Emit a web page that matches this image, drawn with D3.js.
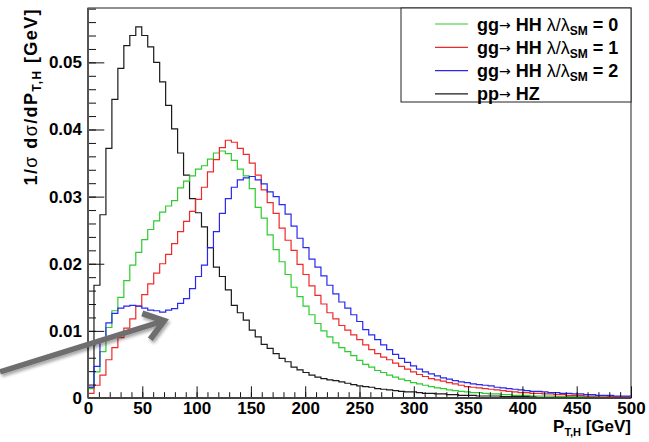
<!DOCTYPE html>
<html>
<head>
<meta charset="utf-8">
<script src="https://cdn.jsdelivr.net/npm/d3@7"></script>
<style>
  body { margin: 0; background: #fff; }
  svg text { font-family: "Liberation Sans", Arial, Helvetica, sans-serif; font-weight: bold; }
</style>
</head>
<body>
<script>
// pT,H distributions, bins of 5.5 GeV starting at 0
var binWidth = 5.5;

var ppHZ = [
  0.0016, 0.0168, 0.0273, 0.0372, 0.0445, 0.0491, 0.0525, 0.0540, 0.0553, 0.0540,
  0.0523, 0.0500, 0.0471, 0.0436, 0.0401, 0.0365, 0.0332, 0.0297, 0.0276, 0.0255,
  0.0224, 0.0195, 0.0181, 0.0161, 0.0138, 0.0127, 0.0116, 0.0101, 0.0091, 0.0080,
  0.0074, 0.0066, 0.0059, 0.0054, 0.0046, 0.0042, 0.0038, 0.0034, 0.0031, 0.0029,
  0.0027, 0.0026, 0.0024, 0.0022, 0.0020, 0.0018, 0.0017, 0.0016, 0.0014, 0.0013,
  0.0012, 0.0011, 0.0010, 0.0009, 0.0009, 0.0008, 0.0007, 0.0007, 0.0006, 0.0006,
  0.0005, 0.0005, 0.0004, 0.0004, 0.0004, 0.0003, 0.0003, 0.0003, 0.0003, 0.0002,
  0.0002, 0.0002, 0.0002, 0.0002, 0.0002, 0.0001, 0.0001, 0.0001, 0.0001, 0.0001,
  0.0001, 0.0001, 0.0001, 0.0001, 0.0001, 0.0001, 0.0001, 0.0001, 0.0001, 0.0001,
  0.0001
];

var hhLambda0 = [
  0.0014, 0.0039, 0.0069, 0.0105, 0.0130, 0.0150, 0.0175, 0.0198, 0.0217, 0.0236,
  0.0251, 0.0264, 0.0277, 0.0286, 0.0294, 0.0313, 0.0323, 0.0331, 0.0341, 0.0346,
  0.0356, 0.0365, 0.0368, 0.0364, 0.0354, 0.0341, 0.0331, 0.0312, 0.0284, 0.0268,
  0.0243, 0.0221, 0.0203, 0.0184, 0.0165, 0.0151, 0.0137, 0.0124, 0.0111, 0.0100,
  0.0091, 0.0082, 0.0075, 0.0069, 0.0063, 0.0056, 0.0050, 0.0046, 0.0041, 0.0038,
  0.0034, 0.0031, 0.0028, 0.0026, 0.0023, 0.0021, 0.0019, 0.0017, 0.0015, 0.0014,
  0.0012, 0.0011, 0.0010, 0.0009, 0.0008, 0.0008, 0.0007, 0.0006, 0.0006, 0.0005,
  0.0005, 0.0004, 0.0004, 0.0004, 0.0003, 0.0003, 0.0003, 0.0003, 0.0002, 0.0002,
  0.0002, 0.0002, 0.0002, 0.0002, 0.0002, 0.0001, 0.0001, 0.0001, 0.0001, 0.0001,
  0.0001
];

var hhLambda1 = [
  0.0007, 0.0019, 0.0034, 0.0057, 0.0075, 0.0090, 0.0104, 0.0118, 0.0137, 0.0154,
  0.0170, 0.0186, 0.0200, 0.0214, 0.0230, 0.0248, 0.0263, 0.0278, 0.0296, 0.0314,
  0.0337, 0.0355, 0.0373, 0.0384, 0.0381, 0.0372, 0.0363, 0.0350, 0.0332, 0.0310,
  0.0291, 0.0275, 0.0253, 0.0235, 0.0220, 0.0199, 0.0184, 0.0167, 0.0153, 0.0140,
  0.0127, 0.0118, 0.0108, 0.0101, 0.0094, 0.0087, 0.0079, 0.0072, 0.0066, 0.0061,
  0.0057, 0.0052, 0.0047, 0.0043, 0.0039, 0.0035, 0.0032, 0.0029, 0.0027, 0.0025,
  0.0023, 0.0021, 0.0019, 0.0017, 0.0016, 0.0015, 0.0014, 0.0013, 0.0012, 0.0011,
  0.0010, 0.0009, 0.0008, 0.0008, 0.0007, 0.0007, 0.0006, 0.0006, 0.0005, 0.0005,
  0.0004, 0.0004, 0.0004, 0.0003, 0.0003, 0.0003, 0.0003, 0.0002, 0.0002, 0.0002,
  0.0002
];

var hhLambda2 = [
  0.0016, 0.0047, 0.0085, 0.0112, 0.0126, 0.0134, 0.0137, 0.0138, 0.0137, 0.0134,
  0.0131, 0.0130, 0.0128, 0.0131, 0.0133, 0.0141, 0.0148, 0.0163, 0.0181, 0.0198,
  0.0224, 0.0248, 0.0275, 0.0297, 0.0314, 0.0325, 0.0328, 0.0330, 0.0325, 0.0319,
  0.0307, 0.0300, 0.0288, 0.0274, 0.0256, 0.0238, 0.0224, 0.0207, 0.0195, 0.0182,
  0.0168, 0.0155, 0.0143, 0.0134, 0.0124, 0.0114, 0.0102, 0.0094, 0.0087, 0.0079,
  0.0072, 0.0065, 0.0059, 0.0053, 0.0048, 0.0043, 0.0039, 0.0036, 0.0033, 0.0030,
  0.0028, 0.0026, 0.0024, 0.0023, 0.0021, 0.0020, 0.0019, 0.0018, 0.0016, 0.0015,
  0.0014, 0.0013, 0.0012, 0.0011, 0.0010, 0.0010, 0.0009, 0.0008, 0.0008, 0.0007,
  0.0007, 0.0006, 0.0006, 0.0005, 0.0005, 0.0004, 0.0004, 0.0004, 0.0003, 0.0003,
  0.0003
];

var xMajorTicks = [0, 50, 100, 150, 200, 250, 300, 350, 400, 450, 500];
var yMajorTicks = [0, 0.01, 0.02, 0.03, 0.04, 0.05];

var series = [
  { name: 'pp', values: ppHZ, color: '#1a1a1a' },
  { name: 'l0', values: hhLambda0, color: '#2ecc2e' },
  { name: 'l1', values: hhLambda1, color: '#f02828' },
  { name: 'l2', values: hhLambda2, color: '#2828f0' }
];

// legend rows, top to bottom
var legendRows = [
  { proc: 'gg', fin: 'HH', lam: '0', color: '#2ecc2e' },
  { proc: 'gg', fin: 'HH', lam: '1', color: '#f02828' },
  { proc: 'gg', fin: 'HH', lam: '2', color: '#2828f0' },
  { proc: 'pp', fin: 'HZ', lam: null, color: '#1a1a1a' }
];

var W = 649, H = 442;
var plotL = 88, plotR = 631, plotT = 8, plotB = 398;

var svg = d3.select('body').append('svg')
  .attr('width', W)
  .attr('height', H);

svg.append('rect').attr('width', W).attr('height', H).attr('fill', '#fff');

var x = d3.scaleLinear().domain([0, 500]).range([plotL, plotR]);
var y = d3.scaleLinear().domain([0, 0.0581]).range([plotB, plotT]);

var defs = svg.append('defs');
defs.append('clipPath').attr('id', 'frame')
  .append('rect')
    .attr('x', plotL).attr('y', plotT)
    .attr('width', plotR - plotL).attr('height', plotB - plotT);
var shadow = defs.append('filter').attr('id', 'shadow')
  .attr('x', '-20%').attr('y', '-40%').attr('width', '140%').attr('height', '200%');
shadow.append('feDropShadow')
  .attr('dx', 1.5).attr('dy', 2.5).attr('stdDeviation', 1.8)
  .attr('flood-color', '#000').attr('flood-opacity', 0.35);

// frame
svg.append('rect')
  .attr('x', plotL).attr('y', plotT)
  .attr('width', plotR - plotL).attr('height', plotB - plotT)
  .attr('fill', 'none').attr('stroke', '#222').attr('stroke-width', 1);

// histograms
function histPoints(values) {
  var pts = values.map(function(v, i) { return [i * binWidth, v]; });
  pts.push([values.length * binWidth, values[values.length - 1]]);
  return pts;
}

var line = d3.line()
  .x(function(d) { return x(d[0]); })
  .y(function(d) { return y(d[1]); })
  .curve(d3.curveStepAfter);

svg.append('g').attr('clip-path', 'url(#frame)')
  .selectAll('path.hist')
  .data(series)
  .enter().append('path')
    .attr('class', 'hist')
    .attr('d', function(d) { return line(histPoints(d.values)); })
    .attr('fill', 'none')
    .attr('stroke', function(d) { return d.color; })
    .attr('stroke-width', 1.2);

// axes: ticks point inward like ROOT
var xMinor = d3.range(0, 501, 10);
var yMinor = d3.range(0, 0.0581, 0.002);

svg.append('g')
  .attr('transform', 'translate(0,' + plotB + ')')
  .call(d3.axisBottom(x).tickValues(xMinor).tickSize(-5.8).tickFormat(''))
  .call(function(g) { g.select('.domain').remove(); });

var xAxis = svg.append('g')
  .attr('transform', 'translate(0,' + plotB + ')')
  .call(d3.axisBottom(x).tickValues(xMajorTicks).tickSize(-11.7).tickPadding(4)
    .tickFormat(d3.format('d')));
xAxis.select('.domain').remove();
xAxis.selectAll('text').attr('font-size', 17).attr('fill', '#000');

svg.append('g')
  .attr('transform', 'translate(' + plotL + ',0)')
  .call(d3.axisLeft(y).tickValues(yMinor).tickSize(-8).tickFormat(''))
  .call(function(g) { g.select('.domain').remove(); });

var yAxis = svg.append('g')
  .attr('transform', 'translate(' + plotL + ',0)')
  .call(d3.axisLeft(y).tickValues(yMajorTicks).tickSize(-16.3).tickPadding(6)
    .tickFormat(function(d) { return d === 0 ? '0' : d3.format('.2f')(d); }));
yAxis.select('.domain').remove();
yAxis.selectAll('text').attr('font-size', 17).attr('fill', '#000');

svg.selectAll('.tick line').attr('stroke', '#111');

// axis lines
svg.append('line')
  .attr('x1', plotL).attr('x2', plotR).attr('y1', plotB).attr('y2', plotB)
  .attr('stroke', '#444').attr('stroke-width', 2);
svg.append('line')
  .attr('x1', plotL).attr('x2', plotL).attr('y1', plotT).attr('y2', plotB)
  .attr('stroke', '#555').attr('stroke-width', 2);

// axis titles
var xt = svg.append('text')
  .attr('x', plotR).attr('y', 432)
  .attr('text-anchor', 'end')
  .attr('font-size', 17);
xt.append('tspan').text('P');
xt.append('tspan').attr('font-size', 11).attr('dy', 4).text('T,H');
xt.append('tspan').attr('dy', -4).text(' [GeV]');

var yt = svg.append('text')
  .attr('transform', 'translate(37,' + plotT + ') rotate(-90)')
  .attr('text-anchor', 'end')
  .attr('font-size', 18)
  .attr('letter-spacing', 1.4);
yt.append('tspan').text('1/');
yt.append('tspan').attr('font-weight', 'normal').text('σ');
yt.append('tspan').text(' d');
yt.append('tspan').attr('font-weight', 'normal').text('σ');
yt.append('tspan').text('/dP');
yt.append('tspan').attr('font-size', 12).attr('dy', 4).text('T,H');
yt.append('tspan').attr('dy', -4).text(' [GeV]');

// legend
var legend = svg.append('g');
legend.append('rect')
  .attr('x', 401).attr('y', plotT)
  .attr('width', plotR - 401).attr('height', 94)
  .attr('fill', '#fff').attr('stroke', '#222').attr('stroke-width', 1);

var rows = legend.selectAll('g.row')
  .data(legendRows)
  .enter().append('g')
    .attr('class', 'row')
    .attr('transform', function(d, i) { return 'translate(0,' + (24 + i * 23.3) + ')'; });

rows.append('line')
  .attr('x1', 435).attr('x2', 468)
  .attr('stroke', function(d) { return d.color; })
  .attr('stroke-width', 1.2);

var lt = rows.append('text')
  .attr('x', 477).attr('y', 6.5)
  .attr('font-size', 18);
lt.append('tspan').text(function(d) { return d.proc; });
lt.append('tspan')
  .attr('font-family', '"DejaVu Sans", sans-serif')
  .attr('font-size', 14).attr('font-weight', 'normal').attr('dy', -1)
  .text('\u2192');
lt.append('tspan').attr('dy', 1).text(function(d) { return ' ' + d.fin; });
lt.filter(function(d) { return d.lam !== null; }).each(function(d) {
  var t = d3.select(this);
  t.append('tspan').attr('font-weight', 'normal').text(' \u03bb/\u03bb');
  t.append('tspan').attr('font-size', 12).attr('dy', 4).text('SM');
  t.append('tspan').attr('dy', -4).text(' = ' + d.lam);
});

// annotation arrow pointing at the lambda=2 shoulder
var arrowTail = [-81, 0.0039], arrowTip = [70, 0.0115];
var tx = x(arrowTip[0]), ty = y(arrowTip[1]);
var sx = x(arrowTail[0]), sy = y(arrowTail[1]);
var ang = Math.atan2(sy - ty, sx - tx);
var armLen = 23, spread = 36 * Math.PI / 180;
var a1 = [tx + armLen * Math.cos(ang + spread), ty + armLen * Math.sin(ang + spread)];
var a2 = [tx + armLen * Math.cos(ang - spread), ty + armLen * Math.sin(ang - spread)];

var arrow = svg.append('g').attr('filter', 'url(#shadow)');
arrow.append('path')
  .attr('d', 'M' + sx + ',' + sy + 'L' + (tx - 2) + ',' + (ty + 0.6))
  .attr('stroke', '#6e6e6e').attr('stroke-width', 5.5).attr('fill', 'none');
arrow.append('path')
  .attr('d', 'M' + a1[0] + ',' + a1[1] + 'L' + tx + ',' + ty + 'L' + a2[0] + ',' + a2[1])
  .attr('stroke', '#6e6e6e').attr('stroke-width', 6).attr('fill', 'none')
  .attr('stroke-linejoin', 'miter');
</script>
</body>
</html>
